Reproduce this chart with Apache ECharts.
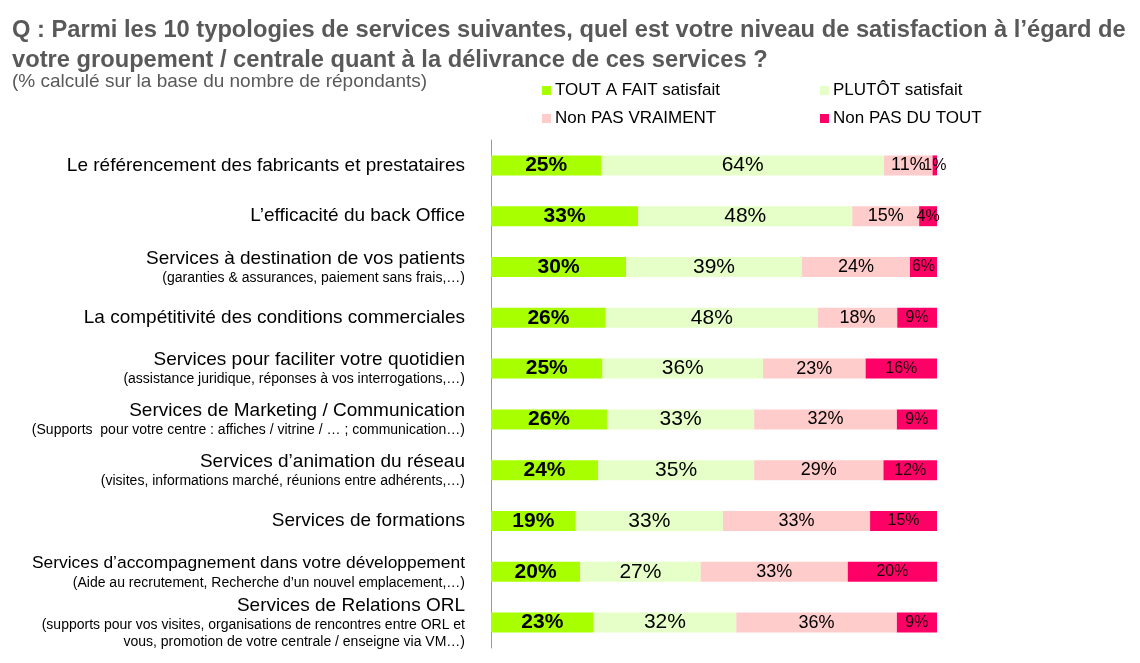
<!DOCTYPE html>
<html>
<head>
<meta charset="utf-8">
<script src="https://cdn.jsdelivr.net/npm/echarts@6/dist/echarts.min.js"></script>
<style>
html,body{margin:0;padding:0;background:#fff;}
#c{width:1140px;height:663px;}
</style>
</head>
<body>
<div id="c"></div>
<script>
const categories = [
  'Le référencement des fabricants et prestataires',
  'L’efficacité du back Office',
  'Services à destination de vos patients',
  'La compétitivité des conditions commerciales',
  'Services pour faciliter votre quotidien',
  'Services de Marketing / Communication',
  'Services d’animation du réseau',
  'Services de formations',
  'Services d’accompagnement dans votre développement',
  'Services de Relations ORL'
];
const subLabels = [
  [],
  [],
  ['(garanties & assurances, paiement sans frais,…)'],
  [],
  ['(assistance juridique, réponses à vos interrogations,…)'],
  ['(Supports  pour votre centre : affiches / vitrine / … ; communication…)'],
  ['(visites, informations marché, réunions entre adhérents,…)'],
  [],
  ['(Aide au recrutement, Recherche d’un nouvel emplacement,…)'],
  ['(supports pour vos visites, organisations de rencontres entre ORL et', 'vous, promotion de votre centrale / enseigne via VM…)']
];
const seriesNames = ['TOUT A FAIT satisfait', 'PLUTÔT satisfait', 'Non PAS VRAIMENT', 'Non PAS DU TOUT'];
const toutAFait = [25, 33, 30, 26, 25, 26, 24, 19, 20, 23];
const plutot    = [64, 48, 39, 48, 36, 33, 35, 33, 27, 32];
const pasVraiment = [11, 15, 24, 18, 23, 32, 29, 33, 33, 36];
const pasDuTout = [1, 4, 6, 9, 16, 9, 12, 15, 20, 9];

const colors = ['#A8FF00', '#E6FFC8', '#FFCCCC', '#FF0066'];
const labelStyles = [
  {fontSize: 21, fontWeight: 'bold', color: '#000'},
  {fontSize: 21, fontWeight: 'normal', color: '#000'},
  {fontSize: 18, fontWeight: 'normal', color: '#000'},
  {fontSize: 16, fontWeight: 'normal', color: '#1a0008'}
];
const allSeries = [toutAFait, plutot, pasVraiment, pasDuTout];
const rowSums = categories.map((_, i) => allSeries.reduce((s, a) => s + a[i], 0));

const font = "'Liberation Sans', Arial, sans-serif";

const chart = echarts.init(document.getElementById('c'), null, {renderer: 'canvas'});

const legendPos = [
  {left: 537, top: 77},
  {left: 815, top: 77},
  {left: 537, top: 105},
  {left: 815, top: 105}
];

const option = {
  backgroundColor: '#fff',
  animation: false,
  textStyle: {fontFamily: font},
  title: [{
    left: 7,
    top: 10,
    text: 'Q : Parmi les 10 typologies de services suivantes, quel est votre niveau de satisfaction à l’égard de\nvotre groupement / centrale quant à la délivrance de ces services ?',
    textStyle: {fontFamily: font, fontSize: 23.7, fontWeight: 'bold', color: '#595959', lineHeight: 30}
  }, {
    left: 7,
    top: 67,
    text: '(% calculé sur la base du nombre de répondants)',
    textStyle: {fontFamily: font, fontSize: 19, fontWeight: 'normal', color: '#595959', lineHeight: 20}
  }],
  legend: seriesNames.map((n, i) => ({
    data: [n],
    left: legendPos[i].left,
    top: legendPos[i].top,
    icon: 'rect',
    itemWidth: 9,
    itemHeight: 9,
    itemGap: 5,
    textStyle: {fontFamily: font, fontSize: 17, color: '#000', padding: [0, 0, 0, -1]},
    selectedMode: false
  })),
  grid: {left: 491, right: 203, top: 140, bottom: 15, containLabel: false, outerBoundsMode: 'none'},
  xAxis: {
    type: 'value', min: 0, max: 100, show: false
  },
  yAxis: {
    type: 'category',
    inverse: true,
    data: categories,
    axisLine: {show: true, lineStyle: {color: '#999', width: 1}},
    axisTick: {show: false},
    axisLabel: {
      margin: 26,
      align: 'right',
      formatter: (v, i) => {
        let s = '{' + (i === 8 ? 'ms' : 'm') + '|' + v + '}';
        subLabels[i].forEach(t => { s += '\n{s|' + t + '}'; });
        return s;
      },
      rich: {
        m: {fontFamily: font, fontSize: 19, lineHeight: 22, color: '#000', align: 'right'},
        ms: {fontFamily: font, fontSize: 17.4, lineHeight: 22, color: '#000', align: 'right'},
        s: {fontFamily: font, fontSize: 14, lineHeight: 17, color: '#000', align: 'right'}
      }
    }
  },
  series: allSeries.map((arr, si) => ({
    name: seriesNames[si],
    type: 'bar',
    stack: 'total',
    barWidth: 20,
    itemStyle: {color: colors[si]},
    label: {
      show: true,
      position: 'inside',
      offset: [0, 1],
      fontFamily: font,
      fontSize: labelStyles[si].fontSize,
      fontWeight: labelStyles[si].fontWeight,
      color: labelStyles[si].color,
      formatter: p => p.data.raw + '%'
    },
    labelLayout: {hideOverlap: false},
    data: arr.map((v, i) => ({value: v / rowSums[i] * 100, raw: v}))
  }))
};
chart.setOption(option);
</script>
</body>
</html>
